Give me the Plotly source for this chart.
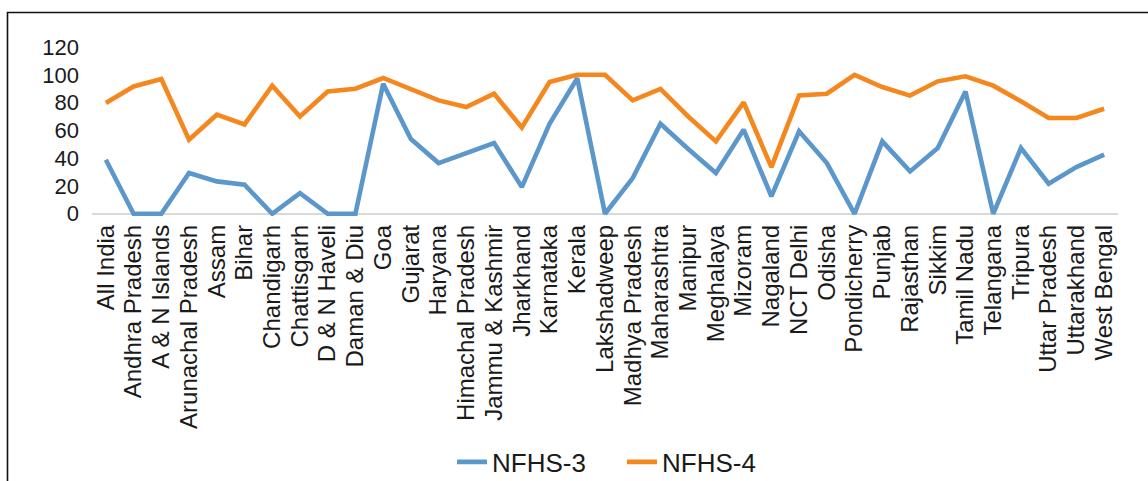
import plotly.graph_objects as go

states = ["All India", "Andhra Pradesh", "A & N Islands", "Arunachal Pradesh", "Assam", "Bihar",
          "Chandigarh", "Chattisgarh", "D & N Haveli", "Daman & Diu", "Goa", "Gujarat", "Haryana",
          "Himachal Pradesh", "Jammu & Kashmir", "Jharkhand", "Karnataka", "Kerala", "Lakshadweep",
          "Madhya Pradesh", "Maharashtra", "Manipur", "Meghalaya", "Mizoram", "Nagaland", "NCT Delhi",
          "Odisha", "Pondicherry", "Punjab", "Rajasthan", "Sikkim", "Tamil Nadu", "Telangana",
          "Tripura", "Uttar Pradesh", "Uttarakhand", "West Bengal"]

nfhs3 = [38.9, 0, 0, 29.3, 23.3, 20.9, 0, 14.9, 0, 0, 93.5, 53.8, 36.5, 43.7, 50.9, 19.2, 64.8,
         97.5, 0, 25.7, 64.8, 46.6, 29.3, 60.5, 12.5, 59.3, 36.5, 0, 52.1, 30.5, 47.3, 88.0, 0,
         47.3, 21.6, 33.6, 42.5]

nfhs4 = [79.7, 91.6, 97.0, 53.3, 71.3, 64.3, 92.2, 70.0, 88.0, 90.0, 97.7, 89.3, 81.6, 76.8, 86.4,
         62.1, 94.8, 100, 100, 81.6, 89.8, 70.0, 52.1, 80.1, 33.6, 85.2, 86.4, 100, 91.2, 85.0,
         95.3, 98.9, 92.2, 80.9, 68.9, 68.9, 75.6]

y_ticks = [0, 20, 40, 60, 80, 100, 120]

FONT = "Liberation Sans, Arial, Helvetica, sans-serif"

fig = go.Figure()
fig.add_trace(go.Scatter(x=states, y=nfhs3, mode="lines", name="NFHS-3",
                         line=dict(color="#5b97cb", width=4.6)))
fig.add_trace(go.Scatter(x=states, y=nfhs4, mode="lines", name="NFHS-4",
                         line=dict(color="#f5871f", width=4.6)))

L, R, T, B = 92, 30, 47, 265
W, H = 1148, 481
pw = W - L - R
ph = H - T - B

def xp(px):
    return (px - L) / pw

def yp(py):
    return (H - B - py) / ph

fig.add_shape(type="path", xref="paper", yref="paper",
              path=f"M {xp(7.5)} {yp(481)} L {xp(7.5)} {yp(12.5)} L {xp(1148)} {yp(12.5)}",
              line=dict(color="#111111", width=1.6))

fig.update_layout(
    width=W, height=H,
    margin=dict(l=L, r=R, t=T, b=B, autoexpand=False),
    paper_bgcolor="white", plot_bgcolor="white",
    font=dict(family=FONT, size=22, color="#1a1a1a"),
    showlegend=True,
    legend=dict(orientation="h", x=xp(452), xanchor="left", y=yp(462), yanchor="middle",
                entrywidth=125, entrywidthmode="pixels",
                font=dict(size=26, color="#1a1a1a"), bgcolor="rgba(0,0,0,0)"),
    xaxis=dict(type="category", tickangle=-90, showgrid=False, showline=False, zeroline=False,
               ticks="", automargin=False, tickfont=dict(size=24, color="#1a1a1a"),
               tickmode="array", tickvals=states, ticktext=states, ticklabelstandoff=3,
               range=[-0.5, len(states) - 0.5]),
    yaxis=dict(range=[-1.6, 120], tickvals=y_ticks, showgrid=False, zeroline=True,
               zerolinecolor="#d9d9d9", zerolinewidth=1.5, showline=False, ticks="",
               ticklabelstandoff=12,
               automargin=False, tickfont=dict(size=22, color="#1a1a1a")),
)

fig.write_html("out.html", config={"displayModeBar": False},
               post_script="document.body.style.margin='0';document.body.style.overflow='hidden';")
